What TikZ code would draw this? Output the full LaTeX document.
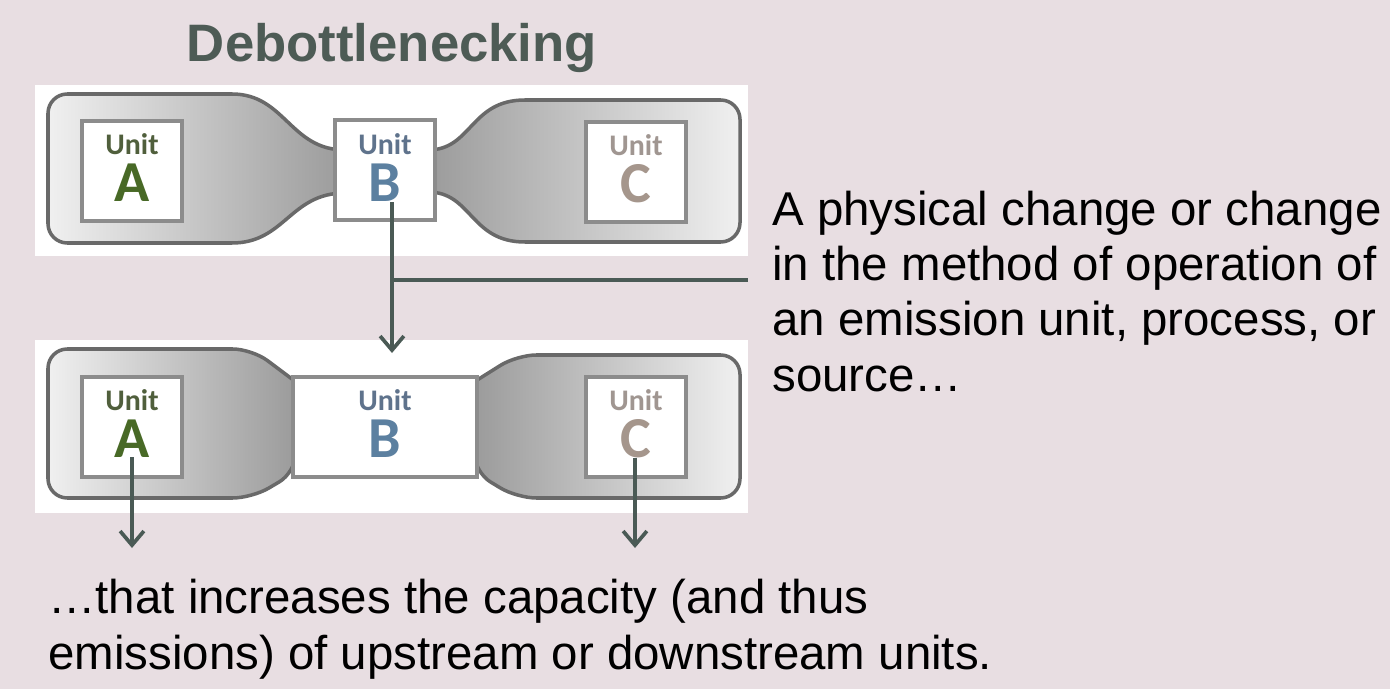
\documentclass[tikz,border=0pt]{standalone}
\usepackage{fontspec}
\setmainfont{Liberation Sans}
\newfontfamily\boxfont{Carlito}
\usetikzlibrary{arrows.meta}

\definecolor{slidebg}{RGB}{232,222,226}
\definecolor{titlegrey}{RGB}{77,91,85}
\definecolor{linkgrey}{RGB}{74,90,85}
\definecolor{podedge}{RGB}{105,105,105}
\definecolor{poddark}{RGB}{155,155,155}
\definecolor{podlight}{RGB}{240,240,240}
\definecolor{boxedge}{RGB}{140,140,140}
\definecolor{aword}{RGB}{80,95,60}
\definecolor{aletter}{RGB}{72,105,38}
\definecolor{bword}{RGB}{95,115,140}
\definecolor{bletter}{RGB}{92,128,160}
\definecolor{cword}{RGB}{160,150,145}
\definecolor{cletter}{RGB}{165,150,140}

\tikzset{
  pod/.style={draw=podedge, line width=2pt},
  unitbox/.style={draw=boxedge, fill=white, line width=2.2pt, inner sep=0pt,
    minimum width=2cm, minimum height=2cm},
  unitword/.style={anchor=base, inner sep=0pt, font=\boxfont\bfseries\fontsize{17}{17}\selectfont},
  unitletter/.style={anchor=base, inner sep=0pt, font=\boxfont\bfseries\fontsize{33}{33}\selectfont},
  link/.style={draw=linkgrey, line width=2.1pt},
  linkarrow/.style={link, -{Straight Barb[length=8pt, width=13.5pt]}},
  bodytext/.style={anchor=base west, align=left, inner sep=0pt,
    font=\fontsize{27}{31.4}\selectfont}
}

\begin{document}
\begin{tikzpicture}[x=0.02cm, y=-0.02cm]
  \fill[slidebg] (0,0) rectangle (1390,689);
  \useasboundingbox (0,0) rectangle (1390,689);

  \node at (392,62) (title) [anchor=base, inner sep=0pt, text=titlegrey,
    font=\bfseries\fontsize{30}{36}\selectfont] {Debottlenecking};

  % before: B is the bottleneck
  \fill[white] (35,85) rectangle (748,256);
  \draw[pod, left color=podlight, right color=poddark]
    (345,150) .. controls (290,150) and (285,94) .. (232,94) -- (200,94)
    [rounded corners=11pt] -- (48,94) -- (48,243) -- (200,243)
    [sharp corners] -- (232,243) .. controls (285,243) and (290,193) .. (345,193) -- cycle;
  \draw[pod, left color=poddark, right color=podlight]
    (428,150) .. controls (472,150) and (470,100) .. (525,100) -- (560,100)
    [rounded corners=11pt] -- (740,100) -- (740,242) -- (560,242)
    [sharp corners] -- (525,242) .. controls (470,242) and (472,192) .. (428,192) -- cycle;

  \node at (132,171) (A1) [unitbox] {};
  \node at (385,170) (B1) [unitbox] {};
  \node at (636,172) (C1) [unitbox] {};

  \node at (132,155) (A1w) [unitword, text=aword] {Unit};
  \node at (132,202) (A1l) [unitletter, text=aletter] {A};
  \node at (385,155) (B1w) [unitword, text=bword] {Unit};
  \node at (385,202) (B1l) [unitletter, text=bletter] {B};
  \node at (636,156) (C1w) [unitword, text=cword] {Unit};
  \node at (636,203) (C1l) [unitletter, text=cletter] {C};

  % after: B widened
  \fill[white] (35,340) rectangle (748,513);
  \draw[pod, left color=podlight, right color=poddark]
    (296,382) [rounded corners=11pt] -- (252,349) -- (48,349) -- (48,498) -- (252,498)
    -- (296,472) [sharp corners] -- cycle;
  \draw[pod, left color=poddark, right color=podlight]
    (474,382) [rounded corners=11pt] -- (517,355) -- (740,355) -- (740,498) -- (517,498)
    -- (474,472) [sharp corners] -- cycle;

  \node at (132,427) (A2) [unitbox] {};
  \node at (385,427) (B2) [unitbox, minimum width=3.68cm] {};
  \node at (636,427) (C2) [unitbox] {};

  \node at (132,410) (A2w) [unitword, text=aword] {Unit};
  \node at (132,457) (A2l) [unitletter, text=aletter] {A};
  \node at (385,410) (B2w) [unitword, text=bword] {Unit};
  \node at (385,457) (B2l) [unitletter, text=bletter] {B};
  \node at (636,410) (C2w) [unitword, text=cword] {Unit};
  \node at (636,457) (C2l) [unitletter, text=cletter] {C};

  \node at (772,391) (desc) [bodytext]
    {A physical change or change\\in the method of operation of\\an emission unit, process, or\\source…};
  \node at (48,669) (effect) [bodytext]
    {…that increases the capacity (and thus\\emissions) of upstream or downstream units.};

  \coordinate (B1fork) at (392,280);
  \coordinate (desclink) at (748,280);
  \coordinate (B2tip) at (392,353);
  \coordinate (A2tip) at (132,548);
  \coordinate (C2tip) at (635,548);

  \draw[linkarrow] (B1l.south -| B1fork) -- (B2tip);
  \draw[link] (B1fork) -- (desclink);
  \draw[linkarrow] (A2l.south) -- (A2tip);
  \draw[linkarrow] (C2l.south -| C2tip) -- (C2tip);
\end{tikzpicture}
\end{document}
